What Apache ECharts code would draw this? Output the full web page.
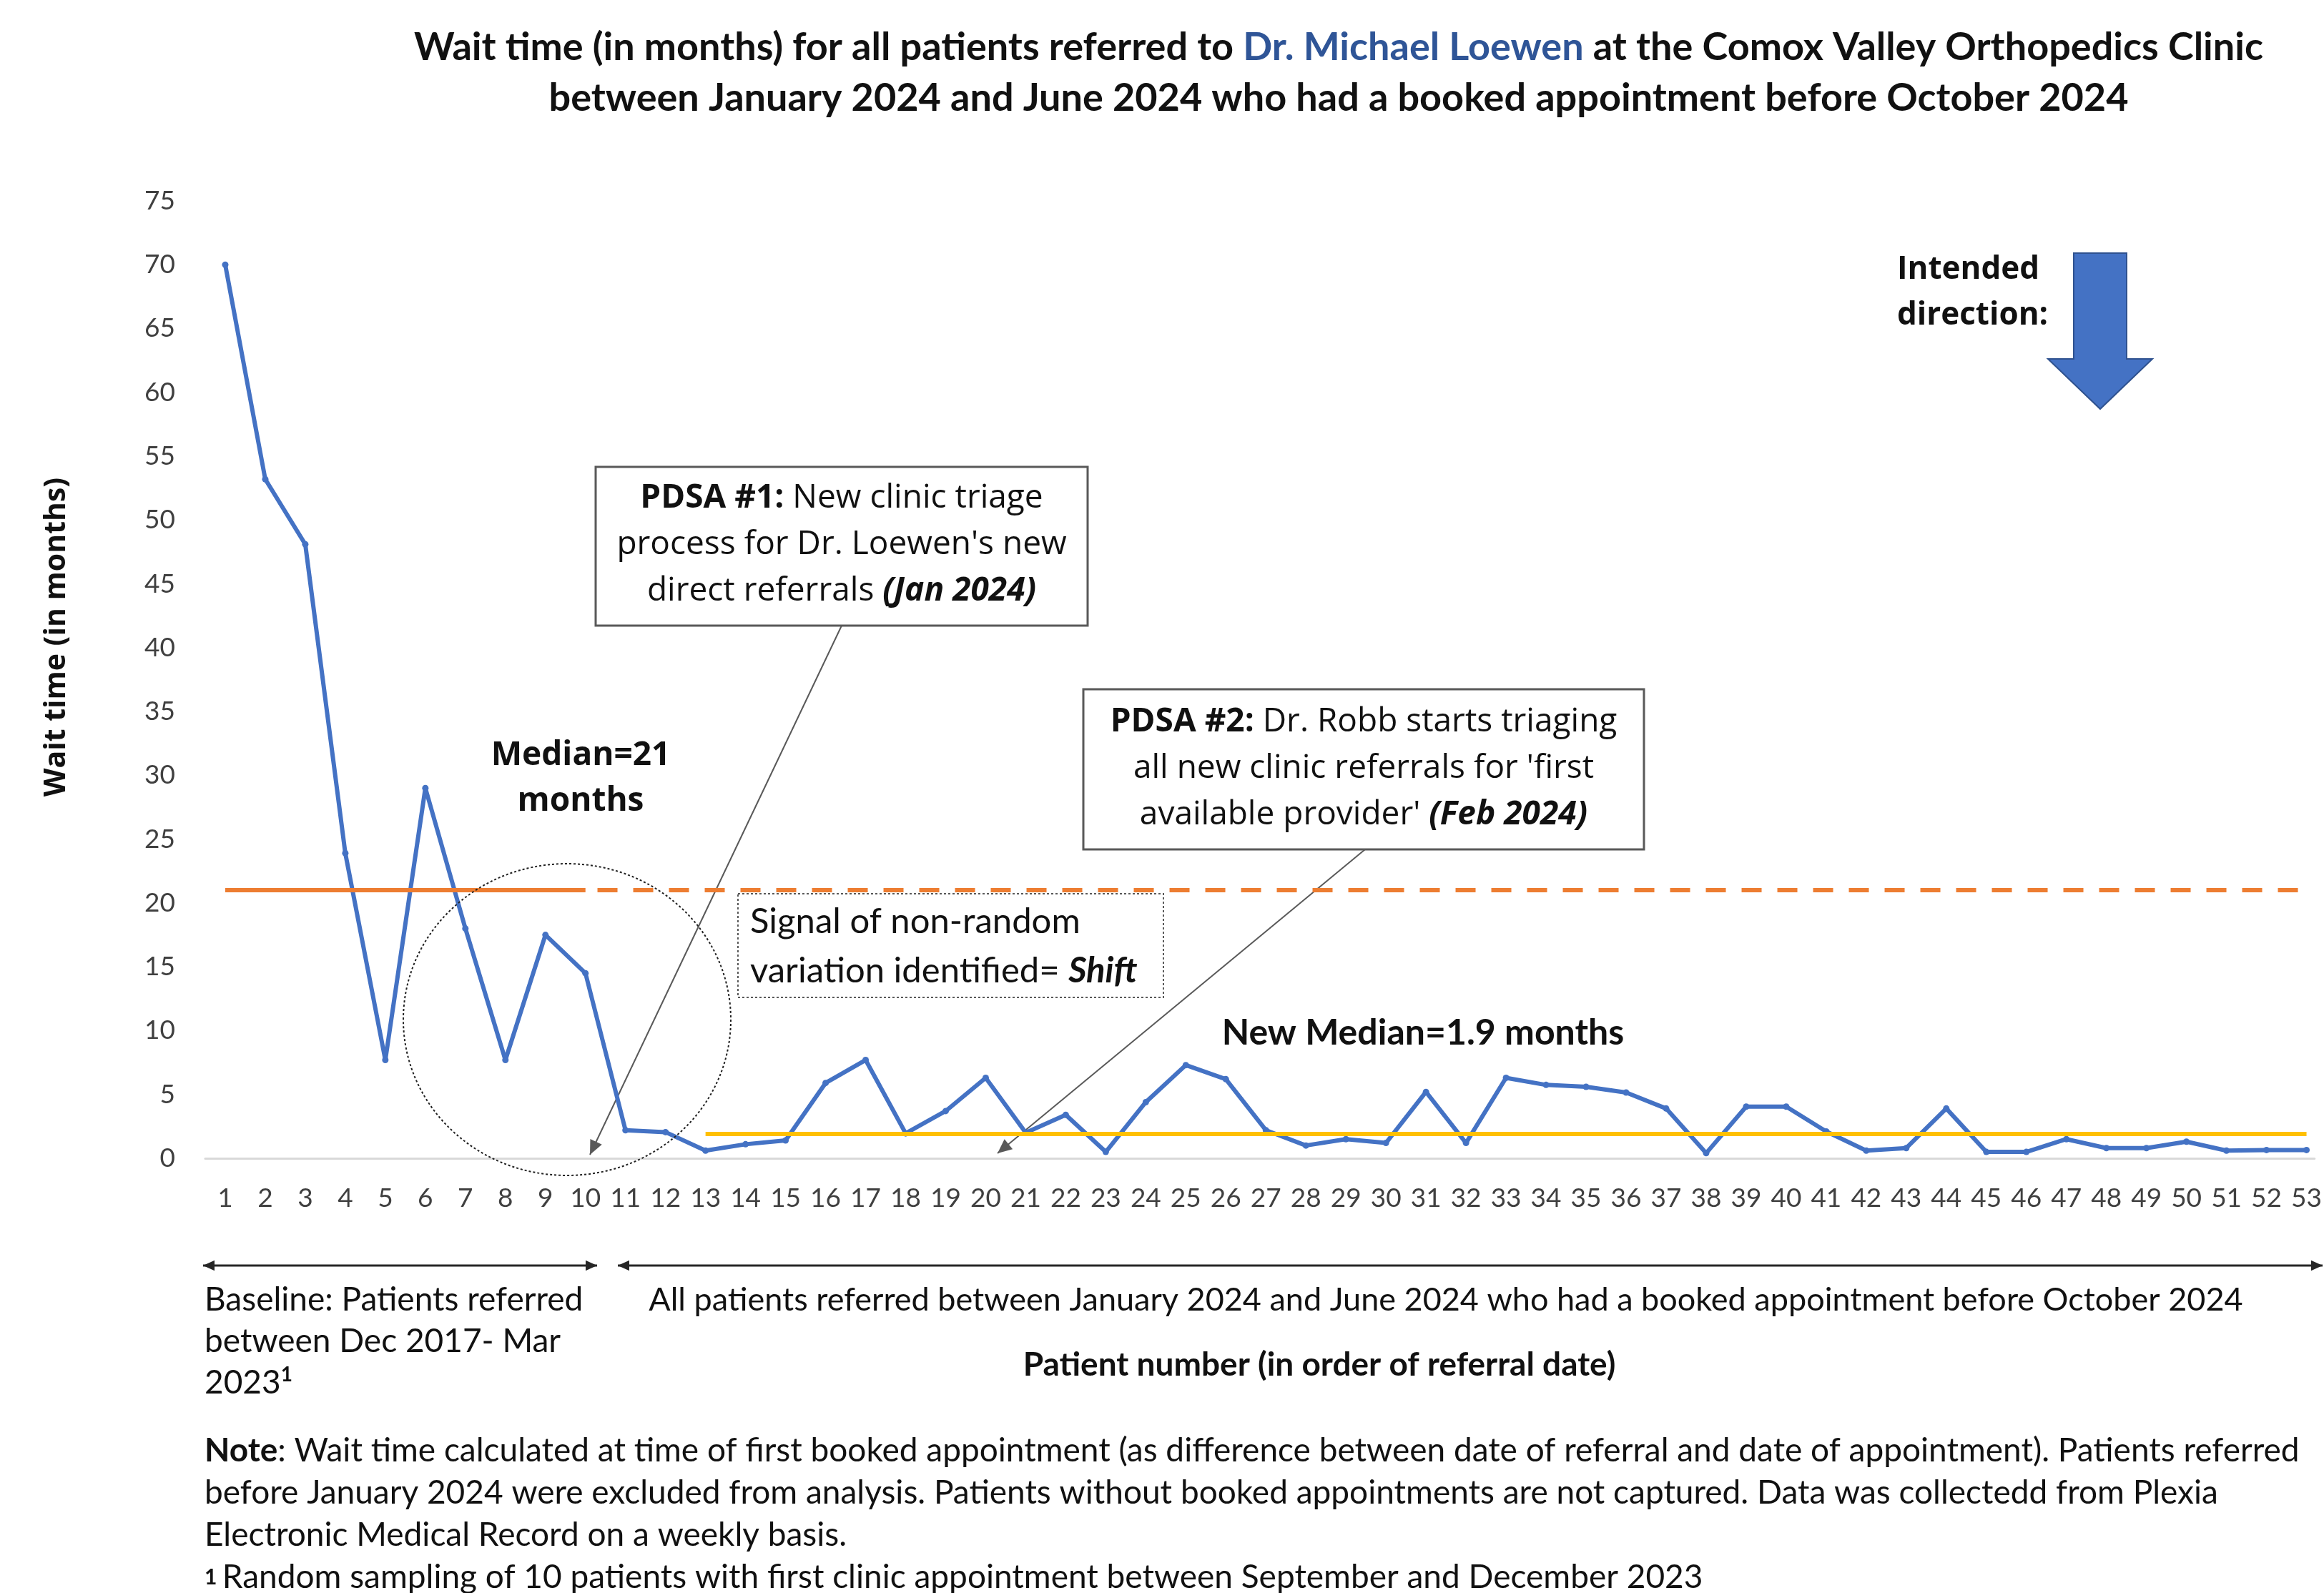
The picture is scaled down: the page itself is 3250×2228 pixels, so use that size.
<!DOCTYPE html>
<html>
<head>
<meta charset="utf-8">
<title>Wait time chart</title>
<style>
  html, body { margin:0; padding:0; background:#fff; }
  #main { width:3250px; height:2228px; }
</style>
<script src="https://cdn.jsdelivr.net/npm/echarts@6/dist/echarts.min.js"></script>
</head>
<body>
<div id="main"></div>
<script>
// patient index (in order of referral date)
var patients = [];
for (var i = 1; i <= 53; i++) patients.push(i);

// wait time in months
var waitMonths = [
  70, 53.2, 48.1, 23.9, 7.7, 29, 18, 7.7, 17.5, 14.5,
  2.2, 2.05, 0.6, 1.1, 1.4, 5.9, 7.7, 1.95, 3.7, 6.3,
  2.0, 3.4, 0.5, 4.4, 7.3, 6.2, 2.2, 1.0, 1.5, 1.2,
  5.2, 1.2, 6.3, 5.75, 5.6, 5.15, 3.9, 0.4, 4.05, 4.05,
  2.1, 0.6, 0.8, 3.9, 0.5, 0.5, 1.5, 0.8, 0.8, 1.3,
  0.6, 0.65, 0.65
];

var baselineMedian = 21;
var newMedian = 1.9;
var baselineRange = [1, 10];      // solid part of the baseline median
var extendedRange = [10.3, 53];   // dashed extension
var newMedianRange = [13, 53];

var BLUE = '#4472C4';
var ORANGE = '#ED7D31';
var YELLOW = '#FFC000';
var SEGOE = '"Open Sans", "Noto Sans", sans-serif';
var CALIBRI = 'Lato, "Open Sans", sans-serif';

var lineData = patients.map(function (p, i) { return [p, waitMonths[i]]; });

// arrow helper for annotation lines
function arrow(x1, y1, x2, y2, color, w, head, both) {
  var dx = x2 - x1, dy = y2 - y1;
  var len = Math.sqrt(dx * dx + dy * dy);
  var ux = dx / len, uy = dy / len;
  var px = -uy, py = ux;
  function tip(tx, ty, sx, sy) {
    return {
      type: 'polygon',
      shape: { points: [
        [tx, ty],
        [tx - sx * head + px * head * 0.45, ty - sy * head + py * head * 0.45],
        [tx - sx * head - px * head * 0.45, ty - sy * head - py * head * 0.45]
      ] },
      style: { fill: color }
    };
  }
  var kids = [{
    type: 'line',
    shape: { x1: x1, y1: y1, x2: x2, y2: y2 },
    style: { stroke: color, lineWidth: w }
  }, tip(x2, y2, ux, uy)];
  if (both) kids.push(tip(x1, y1, -ux, -uy));
  return { type: 'group', children: kids };
}

var myChart = echarts.init(document.getElementById('main'));

var option = {
  backgroundColor: '#fff',
  animation: false,
  grid: { left: 287, right: 1, top: 281, bottom: 608, containLabel: false },
  xAxis: {
    type: 'value',
    min: 0.5,
    max: 53.2,
    axisLine: { show: true, lineStyle: { color: '#d9d9d9', width: 3 } },
    axisTick: { show: false },
    splitLine: { show: false },
    axisLabel: {
      customValues: patients,
      color: '#404040',
      fontFamily: CALIBRI,
      fontSize: 37,
      margin: 38
    }
  },
  yAxis: {
    type: 'value',
    min: 0,
    max: 75,
    interval: 5,
    axisLine: { show: false },
    axisTick: { show: false },
    splitLine: { show: false },
    axisLabel: {
      color: '#404040',
      fontFamily: CALIBRI,
      fontSize: 37,
      margin: 42
    }
  },
  series: [
    {
      name: 'Wait time',
      type: 'line',
      data: lineData,
      symbol: 'circle',
      symbolSize: 9,
      itemStyle: { color: BLUE },
      lineStyle: { color: BLUE, width: 6 },
      z: 3
    },
    {
      name: 'Median',
      type: 'line',
      data: baselineRange.map(function (x) { return [x, baselineMedian]; }),
      symbol: 'none',
      lineStyle: { color: ORANGE, width: 6 },
      z: 4
    },
    {
      name: 'Median extended',
      type: 'line',
      data: extendedRange.map(function (x) { return [x, baselineMedian]; }),
      symbol: 'none',
      lineStyle: { color: ORANGE, width: 6, type: [28, 22] },
      z: 4
    },
    {
      name: 'New median',
      type: 'line',
      data: newMedianRange.map(function (x) { return [x, newMedian]; }),
      symbol: 'none',
      lineStyle: { color: YELLOW, width: 6 },
      z: 4
    }
  ],
  graphic: [
    // title
    {
      type: 'text', x: 1872, y: 31, z: 10,
      style: {
        text: '{a|Wait time (in months) for all patients referred to }{c|Dr. Michael Loewen}{a| at the Comox Valley Orthopedics Clinic}\n{a|between January 2024 and June 2024 who had a booked appointment before October 2024}',
        align: 'center', verticalAlign: 'top',
        rich: {
          a: { fontFamily: CALIBRI, fontWeight: 'bold', fontSize: 54, fill: '#111', lineHeight: 71 },
          c: { fontFamily: CALIBRI, fontWeight: 'bold', fontSize: 54, fill: '#2F5597', lineHeight: 71 }
        }
      }
    },
    // y axis name
    {
      type: 'text', x: 79, y: 891, rotation: Math.PI / 2, z: 10,
      style: {
        text: 'Wait time (in months)', align: 'center', verticalAlign: 'middle',
        fontFamily: SEGOE, fontWeight: 'bold', fontSize: 41, fill: '#111'
      }
    },
    // intended direction
    {
      type: 'text', x: 2653, y: 345, z: 10,
      style: {
        text: 'Intended\ndirection:', align: 'left', verticalAlign: 'top',
        fontFamily: SEGOE, fontWeight: 'bold', fontSize: 44, lineHeight: 64, fill: '#111'
      }
    },
    {
      type: 'polygon', z: 10,
      shape: { points: [[2900, 354], [2974, 354], [2974, 502], [3010, 502], [2937, 572], [2864, 502], [2900, 502]] },
      style: { fill: BLUE, stroke: '#2F528F', lineWidth: 2 }
    },
    // PDSA #1 box
    {
      type: 'rect', z: 10,
      shape: { x: 833, y: 653, width: 688, height: 222 },
      style: { fill: '#fff', stroke: '#595959', lineWidth: 3 }
    },
    {
      type: 'text', x: 1177, y: 762, z: 11,
      style: {
        text: '{b|PDSA #1:}{n| New clinic triage}\n{n|process for Dr. Loewen\'s new}\n{n|direct referrals }{bi|(Jan 2024)}',
        align: 'center', verticalAlign: 'middle',
        rich: {
          n: { fontFamily: SEGOE, fontSize: 46, lineHeight: 65, fill: '#111' },
          b: { fontFamily: SEGOE, fontSize: 46, lineHeight: 65, fontWeight: 'bold', fill: '#111' },
          bi: { fontFamily: SEGOE, fontSize: 46, lineHeight: 65, fontWeight: 'bold', fontStyle: 'italic', fill: '#111' }
        }
      }
    },
    arrow(1177, 875, 825, 1615, '#595959', 2, 20, false),
    // PDSA #2 box
    {
      type: 'rect', z: 10,
      shape: { x: 1515, y: 964, width: 784, height: 224 },
      style: { fill: '#fff', stroke: '#595959', lineWidth: 3 }
    },
    {
      type: 'text', x: 1907, y: 1075, z: 11,
      style: {
        text: '{b|PDSA #2:}{n| Dr. Robb starts triaging}\n{n|all new clinic referrals for \'first}\n{n|available provider\' }{bi|(Feb 2024)}',
        align: 'center', verticalAlign: 'middle',
        rich: {
          n: { fontFamily: SEGOE, fontSize: 46, lineHeight: 65, fill: '#111' },
          b: { fontFamily: SEGOE, fontSize: 46, lineHeight: 65, fontWeight: 'bold', fill: '#111' },
          bi: { fontFamily: SEGOE, fontSize: 46, lineHeight: 65, fontWeight: 'bold', fontStyle: 'italic', fill: '#111' }
        }
      }
    },
    arrow(1909, 1188, 1395, 1613, '#595959', 2, 20, false),
    // shift signal box
    {
      type: 'rect', z: 10,
      shape: { x: 1032, y: 1250, width: 595, height: 145 },
      style: { fill: '#fff', stroke: '#595959', lineWidth: 2, lineDash: [3, 3] }
    },
    {
      type: 'text', x: 1049, y: 1324, z: 11,
      style: {
        text: '{n|Signal of non-random}\n{n|variation identified= }{bi|Shift}',
        align: 'left', verticalAlign: 'middle',
        rich: {
          n: { fontFamily: CALIBRI, fontSize: 49, lineHeight: 69, fill: '#111' },
          bi: { fontFamily: CALIBRI, fontSize: 49, lineHeight: 69, fontWeight: 'bold', fontStyle: 'italic', fill: '#111' }
        }
      }
    },
    // dotted ellipse
    {
      type: 'ellipse', z: 9,
      shape: { cx: 793, cy: 1426, rx: 229, ry: 218 },
      style: { fill: 'none', stroke: '#222', lineWidth: 2, lineDash: [3, 3] }
    },
    // median labels
    {
      type: 'text', x: 812, y: 1089, z: 11,
      style: {
        text: 'Median=21\nmonths', align: 'center', verticalAlign: 'middle',
        fontFamily: SEGOE, fontWeight: 'bold', fontSize: 46, lineHeight: 64, fill: '#111'
      }
    },
    {
      type: 'text', x: 1990, y: 1445, z: 11,
      style: {
        text: 'New Median=1.9 months', align: 'center', verticalAlign: 'middle',
        fontFamily: CALIBRI, fontWeight: 'bold', fontSize: 50, fill: '#111'
      }
    },
    // period arrows under the axis
    arrow(284, 1770, 835, 1770, '#262626', 3, 16, true),
    arrow(864, 1770, 3248, 1770, '#262626', 3, 16, true),
    {
      type: 'text', x: 286, y: 1789, z: 11,
      style: {
        text: '{n|Baseline: Patients referred}\n{n|between Dec 2017- Mar}\n{n|2023}{s|1}', align: 'left', verticalAlign: 'top',
        rich: {
          n: { fontFamily: CALIBRI, fontSize: 46, lineHeight: 58, fill: '#111' },
          s: { fontFamily: CALIBRI, fontSize: 28, fontWeight: 'bold', lineHeight: 58, padding: [0, 0, 22, 0], fill: '#111' }
        }
      }
    },
    {
      type: 'text', x: 2022, y: 1818, z: 11,
      style: {
        text: 'All patients referred between January 2024 and June 2024 who had a booked appointment before October 2024',
        align: 'center', verticalAlign: 'middle',
        fontFamily: CALIBRI, fontSize: 45, fill: '#111'
      }
    },
    {
      type: 'text', x: 1845, y: 1909, z: 11,
      style: {
        text: 'Patient number (in order of referral date)', align: 'center', verticalAlign: 'middle',
        fontFamily: CALIBRI, fontWeight: 'bold', fontSize: 46, fill: '#111'
      }
    },
    // note
    {
      type: 'text', x: 286, y: 2000, z: 11,
      style: {
        text: '{b|Note}{n|: Wait time calculated at time of first booked appointment (as difference between date of referral and date of appointment). Patients referred}\n{n|before January 2024 were excluded from analysis. Patients without booked appointments are not captured. Data was collectedd from Plexia}\n{n|Electronic Medical Record on a weekly basis.}\n{sb|1 }{n|Random sampling of 10 patients with first clinic appointment between September and December 2023}',
        align: 'left', verticalAlign: 'top',
        rich: {
          n: { fontFamily: CALIBRI, fontSize: 46, lineHeight: 59, fill: '#111' },
          b: { fontFamily: CALIBRI, fontSize: 46, lineHeight: 59, fontWeight: 'bold', fill: '#111' },
          sb: { fontFamily: CALIBRI, fontSize: 30, lineHeight: 59, fontWeight: 'bold', fill: '#111' }
        }
      }
    }
  ]
};

myChart.setOption(option);
</script>
</body>
</html>
